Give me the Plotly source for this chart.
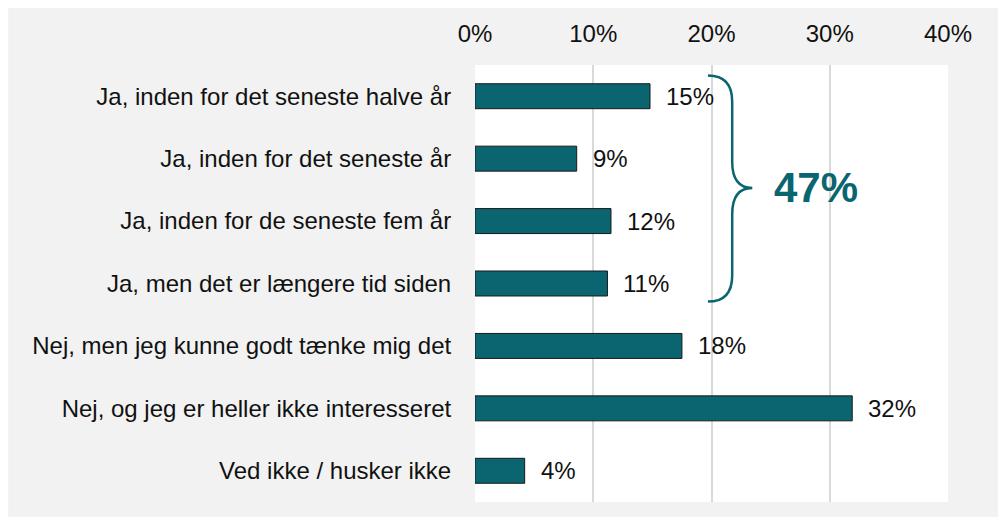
import plotly.graph_objects as go

categories = [
    "Ja, inden for det seneste halve år",
    "Ja, inden for det seneste år",
    "Ja, inden for de seneste fem år",
    "Ja, men det er længere tid siden",
    "Nej, men jeg kunne godt tænke mig det",
    "Nej, og jeg er heller ikke interesseret",
    "Ved ikke / husker ikke",
]
values = [0.148, 0.086, 0.115, 0.112, 0.175, 0.319, 0.042]
value_labels = ["15%", "9%", "12%", "11%", "18%", "32%", "4%"]
x_tickvals = [0, 0.1, 0.2, 0.3, 0.4]
x_ticktext = ["0%", "10%", "20%", "30%", "40%"]
bracket_rows = [0, 3]  # rows grouped by the brace ("Ja" answers)

TEAL = "#0a6570"
FONT = "Liberation Sans, Arial, sans-serif"
FS = 24

ypos = list(range(len(categories)))

fig = go.Figure()
fig.add_trace(go.Bar(
    x=values, y=ypos, orientation="h",
    marker=dict(color=TEAL, line=dict(color="#1a1a1a", width=1)),
    width=0.4, hoverinfo="skip",
))

annotations = []
for yi, v, lab in zip(ypos, values, value_labels):
    annotations.append(dict(
        x=v, y=yi, xref="x", yref="y", text=lab, showarrow=False,
        xanchor="left", yanchor="middle", xshift=14,
        font=dict(family=FONT, size=FS, color="#111111"),
    ))

# brace total
total = sum(int(l.rstrip("%")) for l in value_labels[bracket_rows[0]:bracket_rows[1] + 1])
y_top = bracket_rows[0] - 0.33
y_bot = bracket_rows[1] + 0.29
y_mid = (bracket_rows[0] + bracket_rows[1]) / 2 - 0.03
x0, x1, x2 = 0.197, 0.2175, 0.2345
r = 0.42
path = (f"M {x0},{y_top} Q {x1},{y_top} {x1},{y_top + r} "
        f"L {x1},{y_mid - r} Q {x1},{y_mid} {x2},{y_mid} "
        f"Q {x1},{y_mid} {x1},{y_mid + r} "
        f"L {x1},{y_bot - r} Q {x1},{y_bot} {x0},{y_bot}")

annotations.append(dict(
    x=0.288, y=y_mid, xref="x", yref="y", text=f"<b>{total}%</b>", showarrow=False,
    xanchor="center", yanchor="middle",
    font=dict(family=FONT, size=42, color=TEAL),
))

shapes = [
    dict(type="path", path=path, xref="x", yref="y",
         line=dict(color=TEAL, width=2.5), layer="above"),
    # thin white strip at the left edge of the figure
    dict(type="rect", xref="paper", yref="paper", x0=-1.2, x1=-0.987, y0=-0.2, y1=1.3,
         fillcolor="white", line=dict(width=0), layer="below"),
]

fig.update_layout(
    width=998, height=509,
    margin=dict(l=467, r=58, t=50, b=15),
    paper_bgcolor="#f2f2f2", plot_bgcolor="white",
    showlegend=False, bargap=0.6,
    font=dict(family=FONT, size=FS, color="#111111"),
    annotations=annotations,
    shapes=shapes,
    xaxis=dict(
        side="top", range=[0, 0.4], tickvals=x_tickvals, ticktext=x_ticktext,
        showgrid=True, gridcolor="#d9d9d9", gridwidth=1.5, zeroline=False,
        showline=False, ticks="outside", ticklen=12, tickcolor="rgba(0,0,0,0)",
        tickfont=dict(family=FONT, size=FS, color="#111111"), fixedrange=True,
    ),
    yaxis=dict(
        range=[len(categories) - 0.5, -0.5], tickvals=ypos, ticktext=categories,
        showgrid=False, zeroline=False, showline=False,
        ticks="outside", ticklen=18, tickcolor="rgba(0,0,0,0)",
        tickfont=dict(family=FONT, size=FS, color="#111111"), fixedrange=True,
    ),
)

fig.write_html("out.html")
